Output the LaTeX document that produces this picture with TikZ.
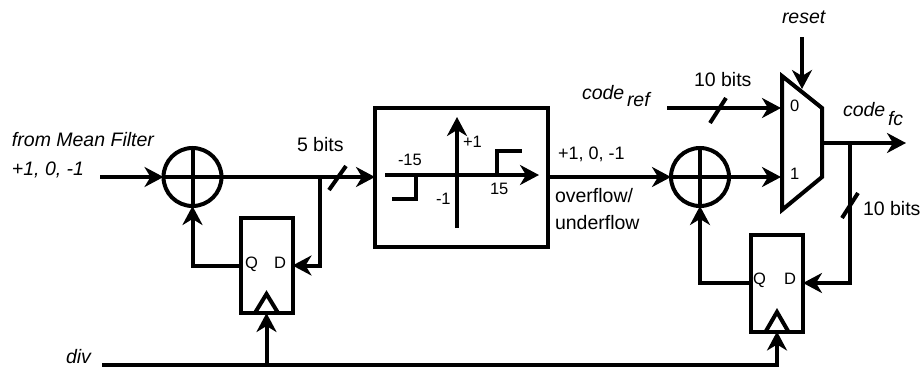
\documentclass[tikz,border=0pt]{standalone}
\usepackage{fontspec}
\setmainfont{Liberation Sans}
\usetikzlibrary{arrows.meta}
\tikzset{
  x=1pt,y=-1pt,
  wire/.style={line width=4pt,line join=miter},
  flow/.style={wire,-{Stealth[length=19pt,width=20pt,inset=6pt]}},
  sumnode/.style={circle,draw,line width=4pt,minimum size=58pt,inner sep=0pt,outer sep=0pt},
  regbox/.style={rectangle,draw,line width=4pt,inner sep=0pt,outer sep=0pt},
  lab/.style={anchor=base west,inner sep=0pt,outer sep=0pt,font=\fontsize{19.5}{19.5}\selectfont},
  ilab/.style={lab,font=\fontsize{19.5}{19.5}\selectfont\itshape},
  slab/.style={lab,font=\fontsize{16.5}{16.5}\selectfont},
  mlab/.style={lab,font=\fontsize{18}{18}\selectfont}
}
\begin{document}
\begin{tikzpicture}
\useasboundingbox (0,0) rectangle (922,367);
% blocks
\node[sumnode] (sum1) at (192.5,177) {};
\node[sumnode] (sum2) at (700,177) {};
\node[regbox,minimum width=52pt,minimum height=95pt] (ff1) at (266.5,265.5) {};
\node[regbox,minimum width=52pt,minimum height=97pt] (ff2) at (777,283) {};
\node[regbox,minimum width=173pt,minimum height=139pt] (sat) at (461.5,177) {};
% sum crosses
\draw[wire] (sum1.north) -- (sum1.south);
\draw[wire] (sum1.west) -- (sum1.east);
\draw[wire] (sum2.north) -- (sum2.south);
\draw[wire] (sum2.west) -- (sum2.east);
% clock triangles
\draw[wire] (255.5,312) -- (266.5,294) -- (277.5,312);
\draw[wire] (766,331) -- (777,312) -- (788,331);
% mux
\coordinate (muxtl) at (782,76);
\coordinate (muxtr) at (822,108);
\coordinate (muxbr) at (822,177);
\coordinate (muxbl) at (782,210);
\draw[wire] (muxtl) -- (muxtr) -- (muxbr) -- (muxbl) -- cycle;
\coordinate (mux0) at (781,108);
\coordinate (mux1) at (781,177);
\coordinate (muxout) at (822,143);
\coordinate (muxsel) at (802,89);
% free ends and junctions
\coordinate (in1) at (100,177);
\coordinate (j1) at (320,177);
\coordinate (fbk1) at (320,265.5);
\coordinate (qc1) at (192.5,265.5);
\coordinate (divs) at (102,365);
\coordinate (divj) at (266.5,365);
\coordinate (dive) at (777,365);
\coordinate (refs) at (667,108);
\coordinate (rsts) at (802,37);
\coordinate (outx) at (906,143);
\coordinate (j2) at (850,143);
\coordinate (fbk2) at (850,283);
\coordinate (qc2) at (700,283);
% connectors
\draw[flow] (in1) -- (sum1.west);
\draw[flow] (sum1.east) -- (sat.west);
\draw[flow] (j1) -- (fbk1) -- (ff1.east);
\draw[flow] (ff1.west) -- (qc1) -- (sum1.south);
\draw[flow] (divj) -- (ff1.south);
\draw[flow] (divs) -- (dive) -- (ff2.south);
\draw[flow] (sat.east) -- (sum2.west);
\draw[flow] (sum2.east) -- (mux1);
\draw[flow] (refs) -- (mux0);
\draw[flow] (rsts) -- (muxsel);
\draw[flow] (muxout) -- (outx);
\draw[flow] (j2) -- (fbk2) -- (ff2.east);
\draw[flow] (ff2.west) -- (qc2) -- (sum2.south);
% bus slashes
\draw[wire] (329,190) -- (346,166);
\draw[wire] (710,123) -- (726,98);
\draw[wire] (842,218) -- (858,193);
% transfer function
\coordinate (axl) at (385,175);
\coordinate (axr) at (539,175);
\coordinate (ayb) at (457,228);
\coordinate (ayt) at (457,117);
\draw[flow] (axl) -- (axr);
\draw[flow] (ayb) -- (ayt);
\draw[wire] (392,199) -- (416,199) -- (416,175);
\draw[wire] (497,175) -- (497,151) -- (522,151);
% labels
\node[ilab] (tfrom) at (12,146) {from Mean Filter};
\node[ilab] (tval) at (12,175) {+1, 0, -1};
\node[ilab] (tdiv) at (66,363) {div};
\node[lab] (t5) at (297,151) {5 bits};
\node[slab] (tq1) at (245,268) {Q};
\node[slab] (td1) at (274,268) {D};
\node[slab] (tm15) at (398,165) {-15};
\node[slab] (tp1) at (463,147) {+1};
\node[slab] (t15) at (490,194) {15};
\node[slab] (tm1) at (436,204) {-1};
\node[mlab] (tout) at (558,159) {+1, 0, -1};
\node[lab] (tov) at (555,202) {overflow/};
\node[lab] (tun) at (555,229) {underflow};
\node[ilab] (tcode) at (582,99) {code};
\node[ilab] (tref) at (627,106) {ref};
\node[lab] (t10a) at (694,86) {10 bits};
\node[ilab] (trst) at (782,23) {reset};
\node[slab] (t0) at (790,111) {0};
\node[slab] (t1) at (790,179) {1};
\node[ilab] (tcf) at (843,116) {code};
\node[ilab] (tfc) at (888,125) {fc};
\node[lab] (t10b) at (863,215) {10 bits};
\node[slab] (tq2) at (753,284) {Q};
\node[slab] (td2) at (784,284) {D};
\end{tikzpicture}
\end{document}
